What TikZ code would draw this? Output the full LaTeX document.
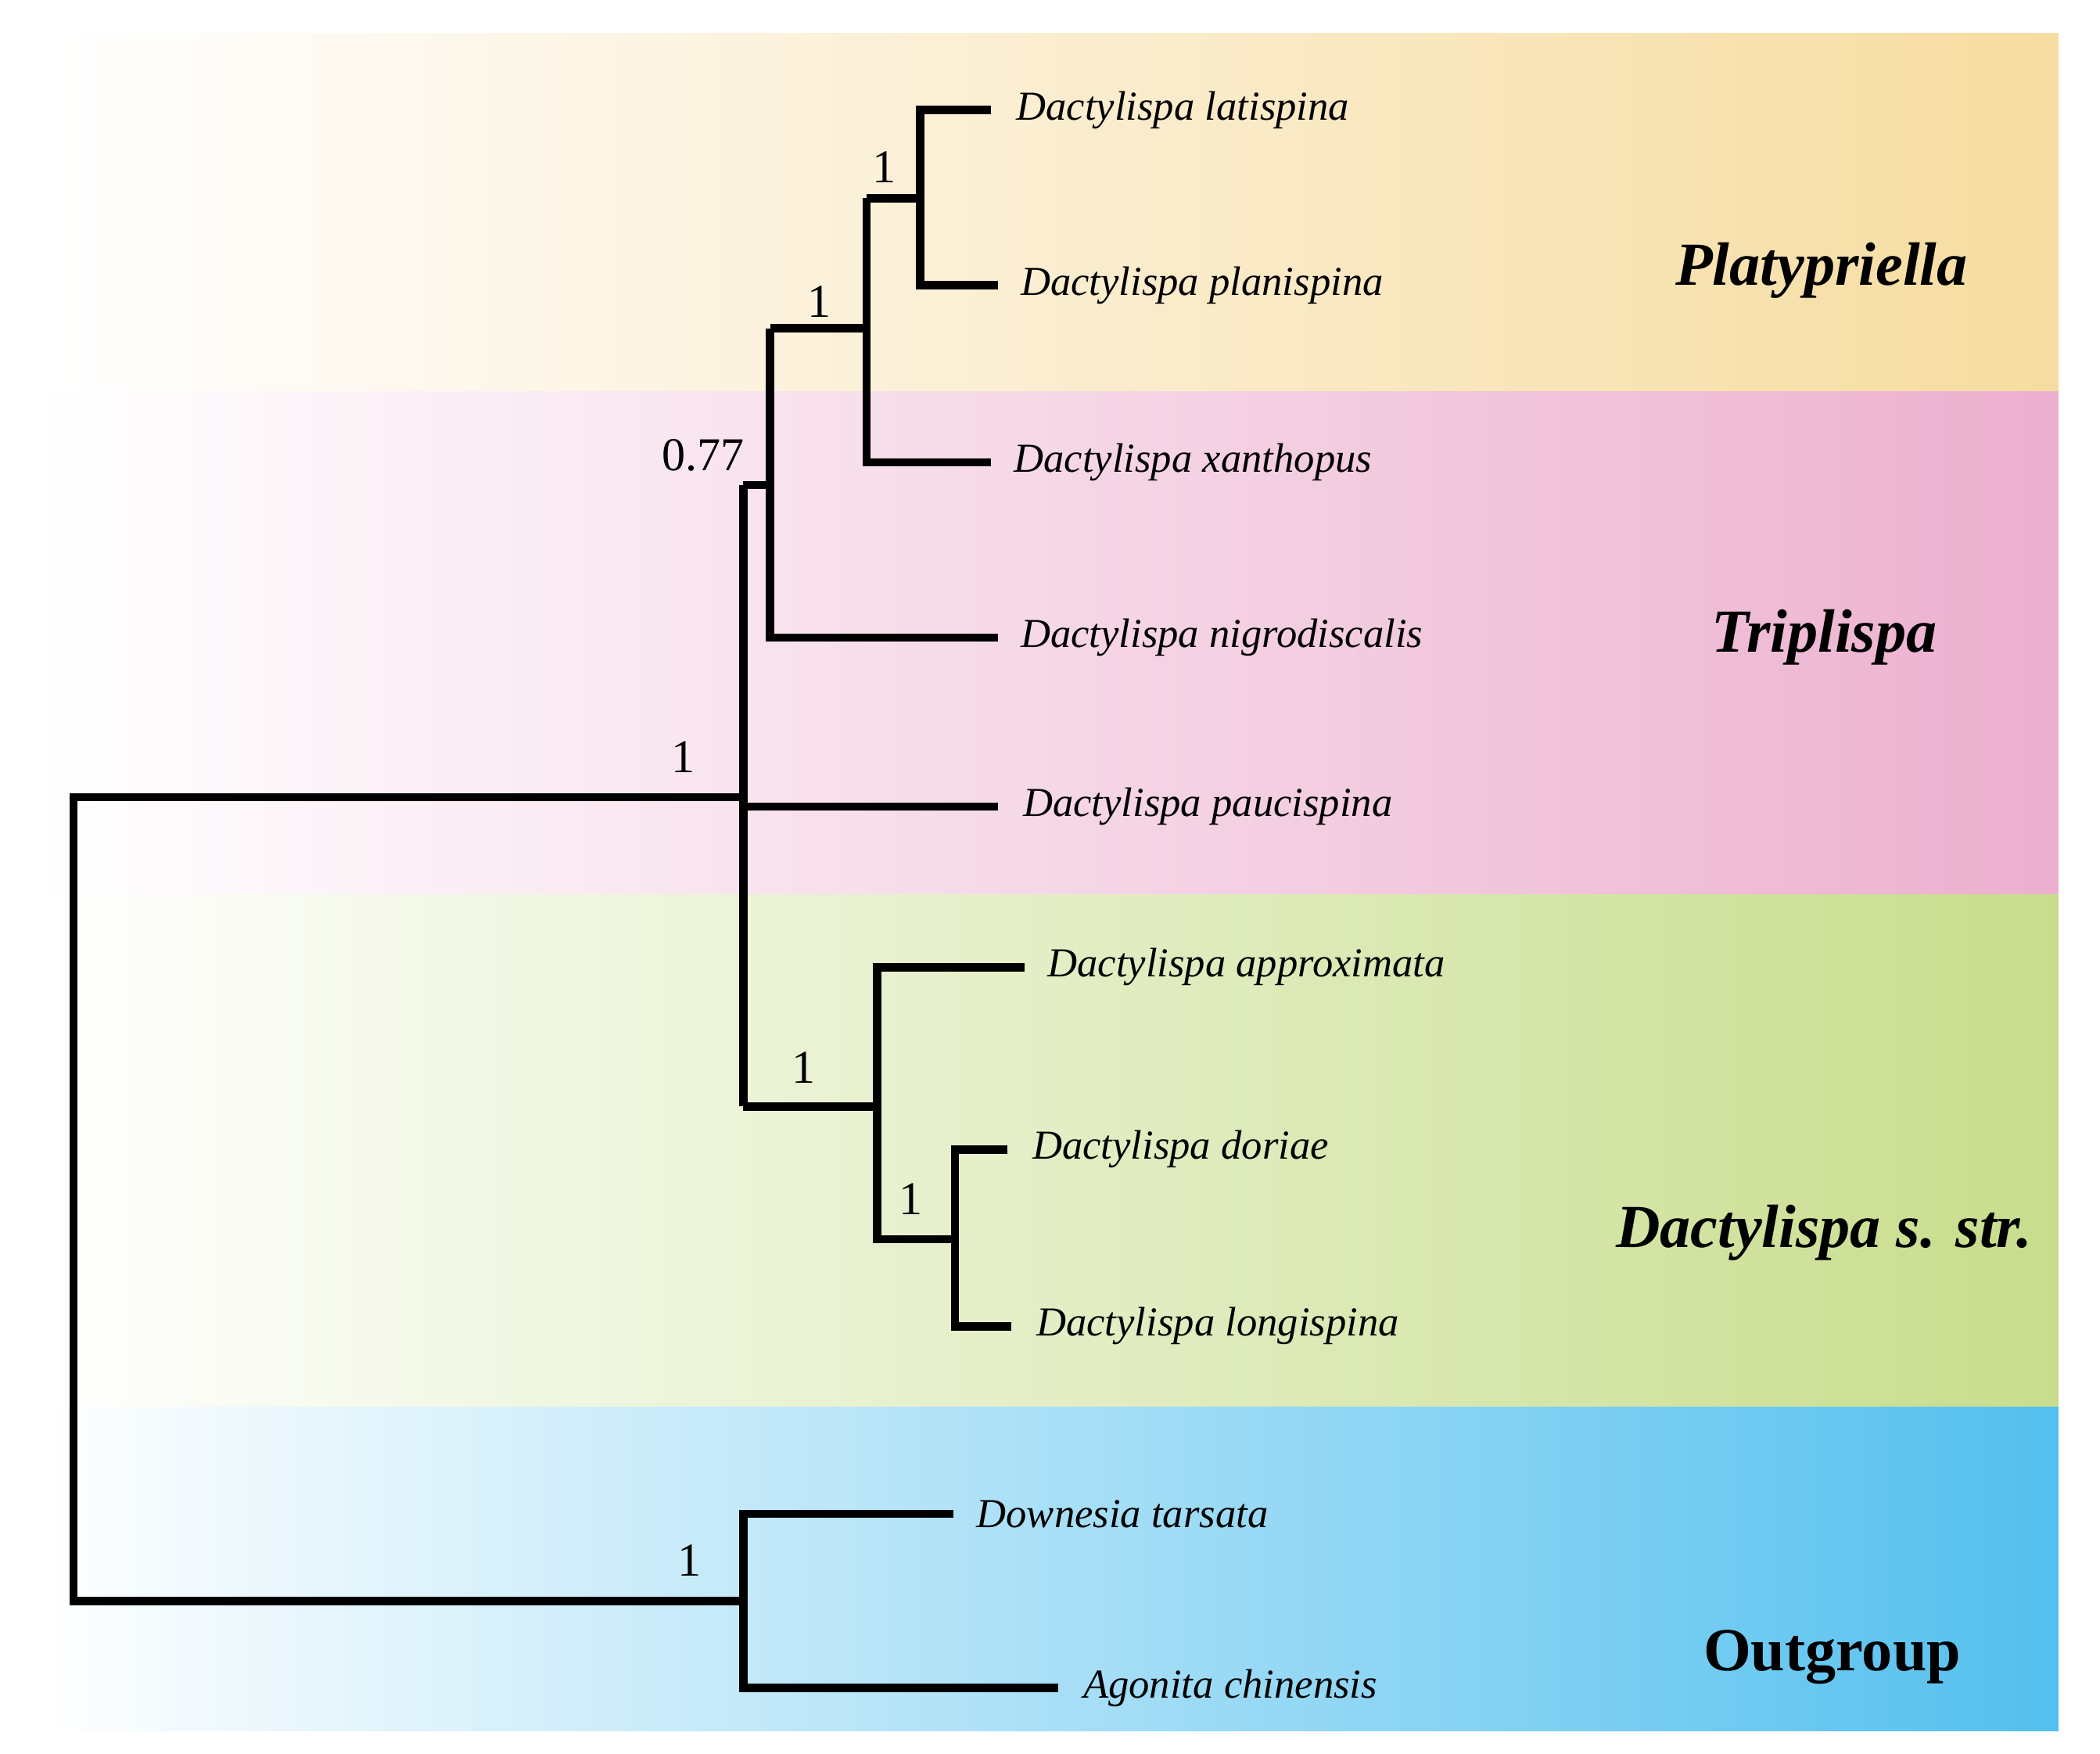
\documentclass[tikz,border=0pt]{standalone}
\usepackage{fontspec}
\setmainfont{Liberation Serif}
\begin{document}
\begin{tikzpicture}[x=0.02cm,y=-0.02cm,
  br/.style={line width=3.5pt,line cap=butt,line join=miter},
  sp/.style={anchor=west,font=\fontsize{17.5}{19}\selectfont\itshape,inner sep=0pt},
  sup/.style={font=\fontsize{20}{22}\selectfont,inner sep=0pt},
  cl/.style={font=\fontsize{26}{28}\selectfont\bfseries\itshape,inner sep=0pt}]
\useasboundingbox (0,0) rectangle (1568,1309);
\fill[white] (0,0) rectangle (1568,1309);
\shade[left color=white,right color={rgb,255:red,246;green,220;blue,160}] (40,25) rectangle (1537,292);
\shade[left color=white,right color={rgb,255:red,236;green,176;blue,206}] (28,292) rectangle (1537,668);
\shade[left color=white,right color={rgb,255:red,200;green,221;blue,140}] (28,668) rectangle (1537,1050);
\shade[left color=white,right color={rgb,255:red,84;green,192;blue,238}] (28,1050) rectangle (1537,1292);
% tree
\coordinate (r1) at (55,595); \coordinate (r2) at (55,1195);
\coordinate (a) at (555,595);
\draw[br] (a) -- (r1) -- (r2) -- (555,1195);
\draw[br] (555,362) -- (555,826);
\draw[br] (555,602) -- (745,602) node (pau) [sp,right=9pt] {Dactylispa paucispina};
\draw[br] (555,362) -- (575,362);
\draw[br] (575,245) -- (575,476) -- (745,476) node (nig) [sp,right=8pt] {Dactylispa nigrodiscalis};
\draw[br] (575,245) -- (647,245);
\draw[br] (647,148) -- (647,345) -- (740,345) node (xan) [sp,right=8pt] {Dactylispa xanthopus};
\draw[br] (647,148) -- (687,148);
\draw[br] (740,82) node (lat) [sp,right=9pt] {Dactylispa latispina} -- (687,82) -- (687,213) -- (745,213) node (pla) [sp,right=8pt] {Dactylispa planispina};
\draw[br] (555,826) -- (655,826);
\draw[br] (765,722) node (app) [sp,right=8pt] {Dactylispa approximata} -- (655,722) -- (655,925) -- (713,925);
\draw[br] (752,858) node (dor) [sp,right=9pt] {Dactylispa doriae} -- (713,858) -- (713,990) -- (755,990) node (lon) [sp,right=9pt] {Dactylispa longispina};
\draw[br] (712,1130) node (dow) [sp,right=8pt] {Downesia tarsata} -- (555,1130) -- (555,1260) -- (790,1260) node (ago) [sp,right=9pt] {Agonita chinensis};
% support
\node[sup] (s1) at (660,125) {1};
\node[sup] (s2) at (612,225) {1};
\node[sup] (s3) at (525,340) {0.77};
\node[sup] (s4) at (510,565) {1};
\node[sup] (s5) at (600,797) {1};
\node[sup] (s6) at (680,895) {1};
\node[sup] (s7) at (515,1165) {1};
% clades
\node[cl] (c1) at (1360,202) {Platypriella};
\node[cl] (c2) at (1362,476) {Triplispa};
\node[cl] (c3) at (1362,920) {Dactylispa s. str.};
\node[font=\fontsize{26}{28}\selectfont\bfseries,inner sep=0pt] (c4) at (1368,1237) {Outgroup};
\end{tikzpicture}
\end{document}
